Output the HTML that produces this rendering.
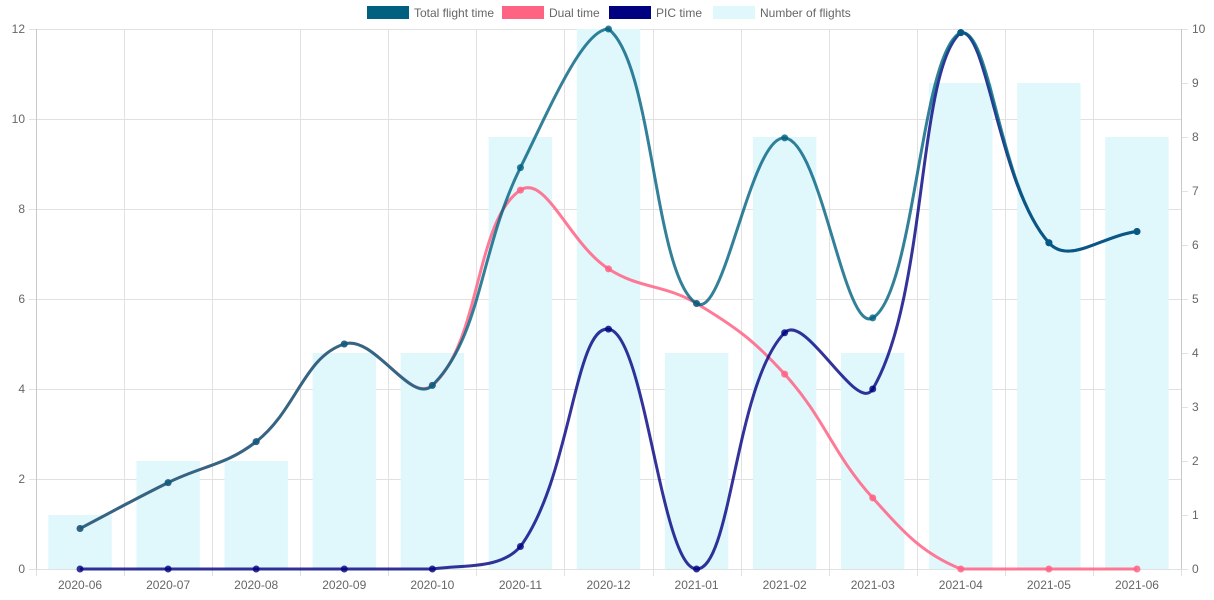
<!DOCTYPE html>
<html><head><meta charset="utf-8"><style>
body{margin:0;background:#fff;}
svg{display:block;font-family:"Liberation Sans",Arial,sans-serif;}
</style></head><body>
<svg id="c" width="1214" height="600"></svg>
<script>
const categories=["2020-06","2020-07","2020-08","2020-09","2020-10","2020-11","2020-12","2021-01","2021-02","2021-03","2021-04","2021-05","2021-06"];
const totalTime=[0.9,1.92,2.83,5.0,4.08,8.92,12.0,5.9,9.58,5.58,11.92,7.25,7.5];
const dualTime=[0.9,1.92,2.83,5.0,4.08,8.42,6.67,5.9,4.33,1.58,0,0,0];
const picTime=[0,0,0,0,0,0.5,5.33,0,5.25,4.0,11.92,7.25,7.5];
const flights=[1,2,2,4,4,8,10,4,8,4,9,9,8];
const leftTicks=[0,2,4,6,8,10,12];
const rightTicks=[0,1,2,3,4,5,6,7,8,9,10];

const svg=document.getElementById('c');
const NS='http://www.w3.org/2000/svg';
const L=36,R=1181,T=29,B=569;
const band=(R-L)/categories.length;
const xS=i=>L+band*(i+0.5);
const yL=v=>B-(v/12)*(B-T);
const yR=v=>B-(v/10)*(B-T);
function mk(tag,attrs,parent){const e=document.createElementNS(NS,tag);for(const k in attrs)e.setAttribute(k,attrs[k]);(parent||svg).appendChild(e);return e;}

const grid=mk('g',{});


leftTicks.forEach(v=>{
  mk('line',{x1:L-7,x2:R,y1:yL(v)+0.5,y2:yL(v)+0.5,stroke:'#e1e1e1'},grid);
  const t=mk('text',{x:L-11,y:yL(v)+4,'text-anchor':'end','font-size':12,fill:'#666'});
  t.textContent=v;
  
  
});
rightTicks.forEach(v=>{
  mk('line',{x1:R,x2:R+7,y1:yR(v)+0.5,y2:yR(v)+0.5,stroke:'#e1e1e1'},grid);
  const t=mk('text',{x:R+11,y:yR(v)+4,'font-size':12,fill:'#666'});
  t.textContent=v;
  
  
});
for(let i=0;i<=categories.length;i++){
  const x=Math.round(L+band*i)+0.5;
  mk('line',{x1:x,x2:x,y1:T,y2:B+7,stroke:'#e1e1e1'},grid);
}
mk('line',{x1:L+0.5,x2:L+0.5,y1:T,y2:B,stroke:'#c8c8c8'},grid);
mk('line',{x1:R+0.5,x2:R+0.5,y1:T,y2:B,stroke:'#c8c8c8'},grid);
categories.forEach((c,i)=>{
  const t=mk('text',{x:xS(i),y:589,'text-anchor':'middle','font-size':12,fill:'#666'});
  t.textContent=c;
  
  
});

flights.forEach((v,i)=>{
  const bw=band*0.72;
  const r=mk('rect',{x:xS(i)-bw/2,y:yR(v),width:bw,height:B-yR(v),fill:'#e0f7fc'});
  
  
});

const cl=y=>Math.max(T,Math.min(B,y));
function curve(pts){
  const n=pts.length,t=0.4,cp=[];
  for(let i=0;i<n;i++){
    const p=pts[Math.max(0,i-1)],c=pts[i],nx=pts[Math.min(n-1,i+1)];
    const d01=Math.hypot(c.x-p.x,c.y-p.y),d12=Math.hypot(nx.x-c.x,nx.y-c.y);
    let fa=d01/(d01+d12)||0,fb=d12/(d01+d12)||0;
    fa*=t;fb*=t;
    cp.push({px:c.x-fa*(nx.x-p.x),py:cl(c.y-fa*(nx.y-p.y)),nx:c.x+fb*(nx.x-p.x),ny:cl(c.y+fb*(nx.y-p.y))});
  }
  let d='M'+pts[0].x+','+pts[0].y;
  for(let i=1;i<n;i++)d+=' C'+cp[i-1].nx+','+cp[i-1].ny+' '+cp[i].px+','+cp[i].py+' '+pts[i].x+','+pts[i].y;
  return d;
}
function series(vals,color,name){
  const pts=vals.map((v,i)=>({x:xS(i),y:yL(v)}));
  const g=mk('g',{});
  
  
  const p=mk('path',{d:curve(pts),fill:'none',stroke:color,'stroke-width':3},g);
  
  
  pts.forEach((q,i)=>{
    const c=mk('circle',{cx:q.x,cy:q.y,r:3.5,fill:color},g);
    
    
  });
}
series(dualTime,'rgba(255,99,132,0.85)','dual-time');
series(picTime,'rgba(0,0,128,0.8)','pic-time');
series(totalTime,'rgba(0,96,128,0.8)','total-flight-time');

const legend=[["Total flight time","#006080",367],["Dual time","#ff6384",502],["PIC time","#000080",609],["Number of flights","#e0f7fc",713]];
legend.forEach(([lbl,col,x])=>{
  const g=mk('g',{});
  
  
  mk('rect',{x:x,y:6,width:42,height:13,fill:col},g);
  const t=mk('text',{x:x+47,y:17,'font-size':12,fill:'#666'},g);
  t.textContent=lbl;
});
</script>
</body></html>
